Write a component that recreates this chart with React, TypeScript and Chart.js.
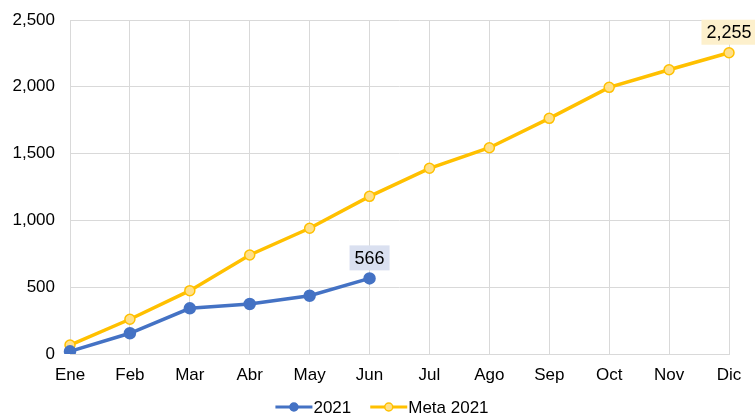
import React, { useEffect, useRef } from "react";
import { Chart, registerables } from "chart.js";

Chart.register(...registerables);

const categories = ["Ene", "Feb", "Mar", "Abr", "May", "Jun", "Jul", "Ago", "Sep", "Oct", "Nov", "Dic"];
const actual2021 = [20, 155, 342, 374, 436, 566];
const meta2021 = [67, 260, 474, 741, 941, 1180, 1390, 1544, 1764, 1996, 2128, 2255];
const yTicks = [0, 500, 1000, 1500, 2000, 2500];

const BLUE = "#4472c4";
const GOLD = "#ffc000";
const GOLD_FILL = "#ffe08a";
const FONT = "'Liberation Sans', Arial, sans-serif";

const lastLabelPlugin = {
  id: "lastLabel",
  afterDatasetsDraw(chart: any) {
    const ctx = chart.ctx;
    chart.data.datasets.forEach((ds: any, i: number) => {
      const meta = chart.getDatasetMeta(i);
      const idx = ds.data.length - 1;
      const el = meta.data[idx];
      if (!el) return;
      const text = Number(ds.data[idx]).toLocaleString("en-US");
      ctx.save();
      ctx.font = `18px ${FONT}`;
      const w = ctx.measureText(text).width + 10;
      const h = 25;
      const x = el.x;
      const bottom = el.y - 8;
      ctx.fillStyle = ds.labelBg;
      ctx.fillRect(x - w / 2, bottom - h, w, h);
      ctx.fillStyle = "#000000";
      ctx.textAlign = "center";
      ctx.textBaseline = "middle";
      ctx.fillText(text, x, bottom - h / 2 + 1);
      ctx.restore();
    });
  },
};

const customLegendPlugin = {
  id: "customLegend",
  afterDraw(chart: any) {
    const ctx = chart.ctx;
    ctx.save();
    ctx.font = `17px ${FONT}`;
    const items = chart.data.datasets.map((ds: any) => ({
      text: ds.label,
      color: ds.borderColor,
      fill: ds.pointBackgroundColor,
      r: ds.legendR,
    }));
    const iconW = 37;
    const textGap = 1;
    const itemGap = 19;
    const widths = items.map((it: any) => iconW + textGap + ctx.measureText(it.text).width);
    const total = widths.reduce((a: number, b: number) => a + b, 0) + itemGap * (items.length - 1);
    const cy = 407;
    let x = 382 - total / 2;
    items.forEach((it: any, i: number) => {
      ctx.strokeStyle = it.color;
      ctx.lineWidth = 3;
      ctx.beginPath();
      ctx.moveTo(x, cy);
      ctx.lineTo(x + iconW, cy);
      ctx.stroke();
      ctx.beginPath();
      ctx.arc(x + iconW / 2, cy, it.r, 0, Math.PI * 2);
      ctx.fillStyle = it.fill;
      ctx.fill();
      ctx.lineWidth = 1.5;
      ctx.stroke();
      ctx.fillStyle = "#000000";
      ctx.textAlign = "left";
      ctx.textBaseline = "middle";
      ctx.fillText(it.text, x + iconW + textGap, cy + 1);
      x += widths[i] + itemGap;
    });
    ctx.restore();
  },
};

export default function App() {
  const ref = useRef<HTMLCanvasElement | null>(null);
  useEffect(() => {
    document.body.style.margin = "0";
    const chart = new Chart(ref.current!, {
      type: "line",
      data: {
        labels: categories,
        datasets: [
          {
            label: "2021",
            data: actual2021,
            borderColor: BLUE,
            backgroundColor: BLUE,
            borderWidth: 3.5,
            pointRadius: 4.5,
            pointBackgroundColor: BLUE,
            pointBorderColor: BLUE,
            labelBg: "#dae0f0",
            legendR: 4,
          } as any,
          {
            label: "Meta 2021",
            data: meta2021,
            borderColor: GOLD,
            backgroundColor: GOLD,
            borderWidth: 3.5,
            pointRadius: 5,
            pointBackgroundColor: GOLD_FILL,
            pointBorderColor: GOLD,
            pointBorderWidth: 1.5,
            labelBg: "#fdf0cc",
            legendR: 4,
          } as any,
        ],
      },
      options: {
        responsive: false,
        animation: false,
        layout: { padding: { top: 20, right: 26, left: 0, bottom: 21.6 } },
        plugins: {
          tooltip: { enabled: false },
          legend: { display: false },
        },
        scales: {
          x: {
            offset: false,
            grid: { color: "#d9d9d9", lineWidth: 1, drawTicks: false },
            border: { color: "#d9d9d9" },
            ticks: { font: { family: FONT, size: 17 }, color: "#000000", padding: 11, maxRotation: 0, autoSkip: false },
          },
          y: {
            min: 0,
            max: 2500,
            afterBuildTicks: (scale: any) => {
              scale.ticks = yTicks.map((v) => ({ value: v }));
            },
            afterFit: (scale: any) => {
              scale.width = 70;
              scale.paddingTop = 0;
              scale.paddingBottom = 0;
            },
            grid: { color: "#d9d9d9", lineWidth: 1, drawTicks: false },
            border: { display: false },
            ticks: {
              font: { family: FONT, size: 17 },
              color: "#000000",
              padding: 15,
              callback: (v: any) => Number(v).toLocaleString("en-US"),
            },
          },
        },
      },
      plugins: [lastLabelPlugin, customLegendPlugin],
    });
    return () => chart.destroy();
  }, []);
  return <canvas ref={ref} width={755} height={418} style={{ display: "block" }} />;
}
